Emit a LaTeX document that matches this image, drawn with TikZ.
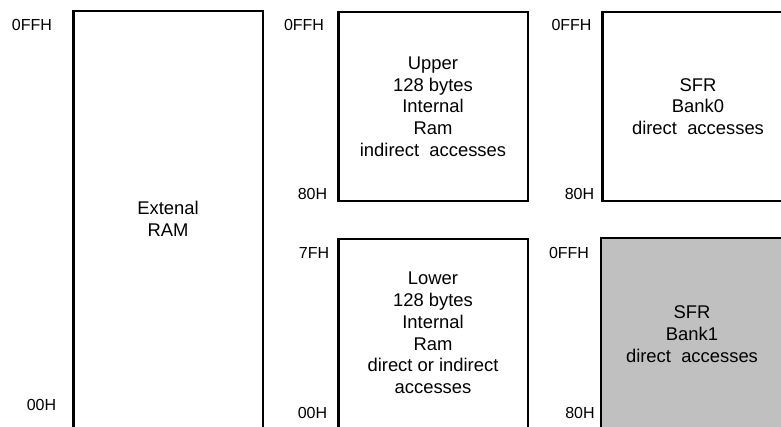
\documentclass[tikz,border=0pt]{standalone}
\usepackage{fontspec}
\setmainfont{Liberation Sans}
\definecolor{bankgray}{HTML}{C0C0C0}
\begin{document}
\begin{tikzpicture}[x=0.75pt,y=-0.75pt,
  box/.style={draw=black,line width=1.9pt,fill=white},
  addr/.style={font=\fontsize{12}{14}\selectfont,inner sep=0pt},
  txt/.style={font=\fontsize{13.8}{16.3}\selectfont,align=center,inner sep=0pt}]
\useasboundingbox (0,0) rectangle (781,426);
\clip (0,0) rectangle (781,426);

% memory blocks (they run off the page edges)
\draw[box] (73.5,11) rectangle (263,445);
\draw[box] (338.5,12) rectangle (528,201);
\draw[box] (602.5,12) rectangle (800,201);
\draw[box] (338.5,239) rectangle (528,445);
\draw[box,fill=bankgray] (601,238) rectangle (800,445);

% block contents
\node[txt] (ext)   at (168,219)   {Extenal\\RAM};
\node[txt] (upper) at (433,106.5) {Upper\\128 bytes\\Internal\\Ram\\indirect\ \ accesses};
\node[txt] (bank0) at (698,106.5) {SFR\\Bank0\\direct\ \ accesses};
\node[txt] (lower) at (433,333)   {Lower\\128 bytes\\Internal\\Ram\\direct or indirect\\accesses};
\node[txt] (bank1) at (692,334)   {SFR\\Bank1\\direct\ \ accesses};

% address labels
\node[addr] (a1) at (32,25)    {0FFH};
\node[addr] (a2) at (41.5,405) {00H};
\node[addr] (a3) at (304,25)   {0FFH};
\node[addr] (a4) at (312.5,194){80H};
\node[addr] (a5) at (314,253)  {7FH};
\node[addr] (a6) at (312.5,413){00H};
\node[addr] (a7) at (571.5,25) {0FFH};
\node[addr] (a8) at (579.5,194){80H};
\node[addr] (a9) at (569,253)  {0FFH};
\node[addr] (a10) at (580,413) {80H};
\end{tikzpicture}
\end{document}
